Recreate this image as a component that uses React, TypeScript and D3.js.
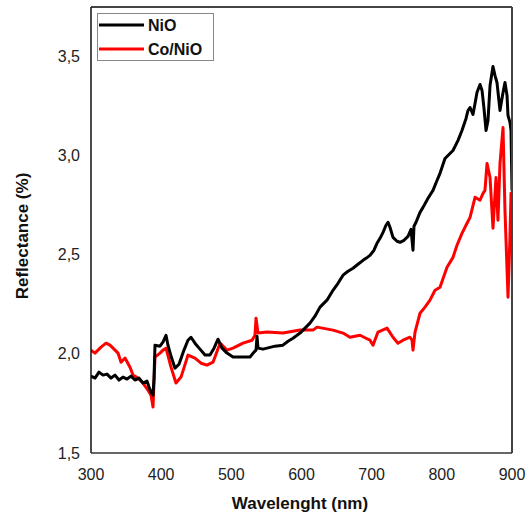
import React from "react";
import * as d3 from "d3";

const xTicks = [300, 400, 500, 600, 700, 800, 900];
const yTicks = [1.5, 2.0, 2.5, 3.0, 3.5];

const nioWavelength = [
  300, 305.7, 311.4, 317.1, 322.8, 328.5, 334.2, 339.9, 345.6, 351.3, 357.0, 362.7, 368.4, 374.1, 379.8,
  382.7, 385.5, 388.4, 389.8, 391.2, 398.3, 402.6, 406.9, 409.7, 414.0, 419.7, 425.4, 432.5, 438.2, 442.5,
  448.2, 455.3, 462.5, 469.6, 475.3, 481.0, 486.7, 493.8, 502.4, 512.4, 526.6, 532.3, 535.2, 536.6, 538.0,
  545.1, 550.8, 562.2, 573.6, 580.8, 587.9, 597.9, 605.0, 612.1, 619.2, 626.4, 636.3, 644.9, 652.0, 659.2,
  666.3, 673.4, 680.5, 687.7, 691.9, 697.6, 703.3, 707.6, 711.9, 716.2, 720.4, 723.3, 726.1, 730.4, 736.1,
  740.4, 746.1, 751.8, 756.1, 758.9, 760.3, 763.2, 768.9, 773.2, 780.3, 787.4, 793.1, 797.4, 804.5, 810.2,
  815.9, 823.1, 828.7, 834.5, 837.3, 840.2, 844.4, 847.3, 850.1, 854.4, 857.3, 860.1, 863.0, 865.8, 868.7,
  871.5, 872.9, 875.8, 878.6, 882.9, 887.2, 890.0, 892.9, 894.3, 897.1, 898.6, 900,
];
const nioReflectance = [
  1.888, 1.878, 1.908, 1.893, 1.898, 1.878, 1.893, 1.868, 1.883, 1.873, 1.888, 1.868, 1.878, 1.853, 1.863,
  1.833, 1.807, 1.792, 1.878, 2.044, 2.039, 2.059, 2.094, 2.044, 1.989, 1.928, 1.948, 2.019, 2.069, 2.084,
  2.054, 2.024, 1.994, 1.994, 2.029, 2.074, 2.029, 2.004, 1.984, 1.984, 1.984, 2.009, 2.019, 2.089, 2.029,
  2.024, 2.029, 2.039, 2.044, 2.064, 2.079, 2.105, 2.130, 2.155, 2.190, 2.236, 2.271, 2.321, 2.356, 2.397,
  2.417, 2.432, 2.452, 2.472, 2.482, 2.497, 2.523, 2.558, 2.583, 2.613, 2.649, 2.664, 2.639, 2.588, 2.568,
  2.563, 2.573, 2.593, 2.628, 2.523, 2.644, 2.664, 2.714, 2.739, 2.785, 2.825, 2.875, 2.911, 2.986, 3.006,
  3.026, 3.077, 3.127, 3.188, 3.228, 3.243, 3.208, 3.263, 3.319, 3.359, 3.329, 3.238, 3.127, 3.178, 3.354,
  3.419, 3.450, 3.404, 3.369, 3.228, 3.319, 3.369, 3.304, 3.203, 3.168, 3.127, 2.825,
];

const coWavelength = [
  300, 305.7, 310.0, 314.3, 321.4, 327.1, 331.4, 338.5, 342.8, 348.5, 355.6, 359.9, 367.0, 374.1, 381.2,
  385.5, 388.4, 391.2, 398.3, 402.6, 406.9, 414.0, 421.1, 428.3, 438.2, 448.2, 456.8, 465.3, 473.9, 483.9,
  493.8, 502.4, 516.6, 529.5, 533.7, 535.2, 538.0, 550.8, 573.6, 597.9, 616.4, 622.1, 644.9, 659.2, 669.1,
  683.4, 691.9, 697.6, 701.9, 709.0, 721.9, 730.4, 737.5, 744.7, 754.6, 757.5, 758.9, 761.8, 768.9, 776.0,
  783.1, 790.3, 797.4, 807.4, 815.9, 821.6, 828.7, 835.9, 840.2, 847.3, 854.4, 858.7, 861.5, 864.4, 868.7,
  872.9, 877.2, 880.0, 882.9, 887.2, 890.0, 894.3, 897.1, 898.6, 900,
];
const coReflectance = [
  2.019, 2.004, 2.019, 2.034, 2.054, 2.044, 2.029, 2.004, 1.958, 1.979, 1.933, 1.893, 1.878, 1.853, 1.817,
  1.792, 1.732, 1.984, 2.004, 2.019, 2.029, 1.933, 1.853, 1.883, 1.994, 1.979, 1.953, 1.943, 1.958, 2.054,
  2.019, 2.029, 2.054, 2.069, 2.094, 2.180, 2.105, 2.110, 2.105, 2.120, 2.120, 2.135, 2.120, 2.105, 2.084,
  2.094, 2.079, 2.069, 2.044, 2.110, 2.130, 2.084, 2.054, 2.069, 2.084, 2.069, 2.019, 2.110, 2.205, 2.236,
  2.271, 2.321, 2.336, 2.437, 2.487, 2.548, 2.608, 2.659, 2.689, 2.790, 2.775, 2.810, 2.825, 2.961, 2.890,
  2.634, 2.890, 2.674, 2.961, 3.142, 2.724, 2.286, 2.588, 2.810, 2.810,
];

const W = 528;
const H = 522;
const left = 91;
const right = 512;
const top = 7;
const bottom = 453;

export default function App() {
  const x = d3.scaleLinear().domain([300, 900]).range([left, right]);
  const y = d3.scaleLinear().domain([1.5, 3.75]).range([bottom, top]);
  const line = d3
    .line<[number, number]>()
    .x((d) => x(d[0]))
    .y((d) => y(d[1]))
    .curve(d3.curveLinear);
  const nio = nioWavelength.map((w, i) => [w, nioReflectance[i]] as [number, number]);
  const co = coWavelength.map((w, i) => [w, coReflectance[i]] as [number, number]);
  const font = "Liberation Sans, Arial, sans-serif";

  return (
    <svg
      width={W}
      height={H}
      style={{ position: "absolute", left: 0, top: 0, background: "#fff" }}
      fontFamily={font}
    >
      <defs>
        <clipPath id="plotclip">
          <rect x={left} y={top} width={right - left} height={bottom - top} />
        </clipPath>
      </defs>
      <g clipPath="url(#plotclip)">
        <path d={line(co) || ""} fill="none" stroke="#ff0000" strokeWidth={3} strokeLinejoin="round" />
        <path d={line(nio) || ""} fill="none" stroke="#000" strokeWidth={3} strokeLinejoin="round" />
      </g>
      {/* frame */}
      <line x1={left} x2={right} y1={top} y2={top} stroke="#444" strokeWidth={2} />
      <line x1={right} x2={right} y1={top} y2={bottom} stroke="#444" strokeWidth={2} />
      <line x1={left} x2={left} y1={top} y2={bottom} stroke="#111" strokeWidth={1.5} />
      <line x1={left} x2={right} y1={bottom} y2={bottom} stroke="#333" strokeWidth={1.5} />

      {yTicks.map((t) => (
        <text
          key={t}
          x={80}
          y={y(t)}
          dy="0.35em"
          textAnchor="end"
          fontSize={16}
          fill="#222"
        >
          {t.toFixed(1).replace(".", ",")}
        </text>
      ))}
      {xTicks.map((t) => (
        <text key={t} x={x(t)} y={480} textAnchor="middle" fontSize={16} fill="#222">
          {t}
        </text>
      ))}
      <text x={300} y={509} textAnchor="middle" fontSize={17} fontWeight="bold" fill="#111">
        Wavelenght (nm)
      </text>
      <text
        transform={`translate(28,${236}) rotate(-90)`}
        textAnchor="middle"
        fontSize={17}
        fontWeight="bold"
        fill="#111"
      >
        Reflectance (%)
      </text>

      {/* legend */}
      <rect x={97.5} y={13.5} width={116} height={47} fill="#fff" stroke="#888" strokeWidth={1} />
      <line x1={99} x2={144} y1={25} y2={25} stroke="#000" strokeWidth={3} />
      <line x1={99} x2={144} y1={49} y2={49} stroke="#ff0000" strokeWidth={3} />
      <text x={148} y={25} dy="0.35em" fontSize={16} fontWeight="bold" fill="#111">
        NiO
      </text>
      <text x={148} y={49} dy="0.35em" fontSize={16} fontWeight="bold" fill="#111">
        Co/NiO
      </text>
    </svg>
  );
}
